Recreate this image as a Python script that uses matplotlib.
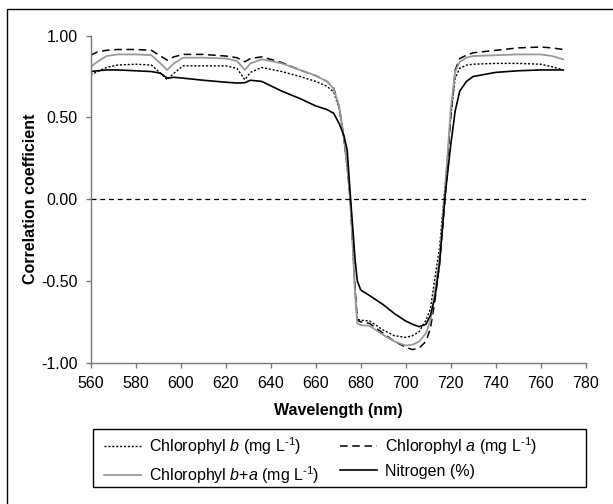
import matplotlib
matplotlib.use("Agg")
import matplotlib.pyplot as plt
from matplotlib.patches import Rectangle

plt.rcParams['font.family'] = ['Liberation Sans', 'DejaVu Sans']
plt.rcParams['mathtext.fontset'] = 'custom'
plt.rcParams['mathtext.rm'] = 'Liberation Sans'
plt.rcParams['mathtext.it'] = 'Liberation Sans:italic'
plt.rcParams['mathtext.bf'] = 'Liberation Sans:bold'

wavelength = [560, 563, 567, 572, 580, 587, 591, 594, 597, 601, 610, 620, 625, 628.5, 631, 636,
              645, 653, 660, 665, 668, 670.5, 672.5, 674, 675.3, 676.5, 677.5, 678.5, 680, 684,
              690, 695, 700, 703, 706, 709, 711, 713, 715, 717.5, 720, 722, 724, 727, 730, 740,
              750, 760, 765, 770]

chl_b = [0.76, 0.78, 0.805, 0.82, 0.825, 0.82, 0.77, 0.73, 0.77, 0.815, 0.815, 0.815, 0.80, 0.73,
         0.775, 0.805, 0.78, 0.75, 0.72, 0.69, 0.655, 0.55, 0.37, 0.19, 0.0, -0.30, -0.56, -0.735,
         -0.74, -0.745, -0.80, -0.835, -0.845, -0.835, -0.81, -0.74, -0.67, -0.48, -0.30, 0.08,
         0.50, 0.74, 0.80, 0.82, 0.825, 0.83, 0.83, 0.825, 0.81, 0.79]

chl_a = [0.88, 0.90, 0.91, 0.915, 0.915, 0.91, 0.875, 0.85, 0.87, 0.885, 0.885, 0.875, 0.865, 0.84,
         0.86, 0.87, 0.835, 0.79, 0.755, 0.72, 0.68, 0.56, 0.38, 0.20, 0.0, -0.28, -0.55, -0.74,
         -0.75, -0.76, -0.82, -0.87, -0.905, -0.92, -0.91, -0.87, -0.79, -0.62, -0.40, 0.0,
         0.50, 0.79, 0.86, 0.88, 0.895, 0.91, 0.925, 0.93, 0.925, 0.915]

chl_ba = [0.81, 0.84, 0.875, 0.885, 0.885, 0.88, 0.83, 0.79, 0.83, 0.865, 0.865, 0.86, 0.845, 0.79,
          0.83, 0.855, 0.83, 0.79, 0.755, 0.72, 0.675, 0.56, 0.38, 0.20, 0.0, -0.30, -0.58, -0.76,
          -0.77, -0.775, -0.83, -0.87, -0.895, -0.89, -0.87, -0.82, -0.74, -0.56, -0.36, 0.05,
          0.55, 0.78, 0.84, 0.865, 0.875, 0.88, 0.885, 0.885, 0.875, 0.855]

nitrogen = [0.78, 0.785, 0.79, 0.79, 0.785, 0.78, 0.77, 0.74, 0.745, 0.74, 0.727, 0.715, 0.71, 0.712,
            0.727, 0.72, 0.66, 0.615, 0.57, 0.548, 0.525, 0.46, 0.39, 0.30, 0.04, -0.18, -0.37, -0.50,
            -0.555, -0.59, -0.645, -0.70, -0.745, -0.765, -0.78, -0.765, -0.71, -0.60, -0.40, 0.02,
            0.33, 0.54, 0.66, 0.72, 0.75, 0.775, 0.785, 0.79, 0.79, 0.79]

sup = r'$^{\text{-1}}$'
label_b = r'Chlorophyl $\it{b}$ (mg L' + sup + ')'
label_a = r'Chlorophyl $\it{a}$ (mg L' + sup + ')'
label_ba = r'Chlorophyl $\it{b}$+$\it{a}$ (mg L' + sup + ')'
label_n = 'Nitrogen (%)'

x_ticks = [560, 580, 600, 620, 640, 660, 680, 700, 720, 740, 760, 780]
y_ticks = [-1.0, -0.5, 0.0, 0.5, 1.0]

W, H = 613, 504
fig = plt.figure(figsize=(W / 100, H / 100), dpi=100)
ax = fig.add_axes([90.7 / W, 1 - 362.7 / H, (585.7 - 90.7) / W, (362.7 - 35.6) / H])

l_b, = ax.plot(wavelength, chl_b, color='black', lw=1.0, linestyle=(0, (1.5, 1.3)))
l_a, = ax.plot(wavelength, chl_a, color='black', lw=1.1, linestyle=(0, (5, 3)))
l_ba, = ax.plot(wavelength, chl_ba, color='#999999', lw=1.3, linestyle='-')
l_n, = ax.plot(wavelength, nitrogen, color='black', lw=1.2, linestyle='-')

ax.axhline(0, color='black', lw=0.9, linestyle=(0, (4, 3)))

ax.set_xlim(560, 780)
ax.set_ylim(-1.0, 1.0)
ax.set_xticks(x_ticks)
ax.set_yticks(y_ticks)
ax.set_yticklabels([f'{v:.2f}' for v in y_ticks])
for s in ['top', 'right']:
    ax.spines[s].set_visible(False)
for s in ['left', 'bottom']:
    ax.spines[s].set_color('#777777')
    ax.spines[s].set_linewidth(1.0)
ax.tick_params(axis='both', direction='out', length=3.5, width=1.0, color='#777777',
               labelsize=11.5, pad=6)
ax.set_xlabel('Wavelength (nm)', fontsize=11.5, fontweight='bold', labelpad=9)
ax.set_ylabel('Correlation coefficient', fontsize=11.5, fontweight='bold', labelpad=2)

# legend (column-major order gives rows: b, a / b+a, N)
leg = fig.legend([l_b, l_ba, l_a, l_n], [label_b, label_ba, label_a, label_n], ncol=2,
                 loc='upper left', bbox_to_anchor=(104 / W, 1 - 435 / H), frameon=False,
                 fontsize=11.5, handlelength=2.3, handletextpad=0.5, columnspacing=1.3,
                 labelspacing=0.45, borderpad=0.0, borderaxespad=0.0)
fig.patches.append(Rectangle((92.7 / W, 1 - 486.5 / H), (586 - 92.7) / W, (486.5 - 429.3) / H,
                             transform=fig.transFigure, fill=False, edgecolor='black', lw=1.0))
# outer frame (cropped at right and bottom)
fig.patches.append(Rectangle((7 / W, -0.1), 1.2, 1 - 9 / H + 0.1, transform=fig.transFigure,
                             fill=False, edgecolor='black', lw=1.0, clip_on=False))

fig.savefig('out.png', dpi=100)
